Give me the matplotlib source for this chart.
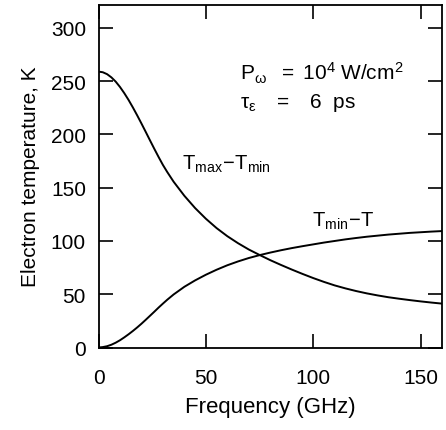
import numpy as np
import matplotlib
matplotlib.use('Agg')
import matplotlib.pyplot as plt

plt.rcParams['font.family'] = ['Liberation Sans', 'DejaVu Sans']
plt.rcParams['mathtext.fontset'] = 'custom'
plt.rcParams['mathtext.rm'] = 'Liberation Sans'
plt.rcParams['mathtext.it'] = 'Liberation Sans'

# frequency grid (GHz) of the values
freq = [0, 2, 4, 6, 8, 10, 12, 14, 16, 18, 20, 22, 24, 26, 28, 30, 32, 35, 40,
        45, 50, 55, 60, 65, 70, 75, 80, 85, 90, 95, 100, 105, 110, 115, 120,
        125, 130, 135, 140, 145, 150, 155, 160]

# Tmax - Tmin (falling curve)
t_dec = [259, 258.4, 256.6, 253.6, 249.6, 244.6, 238.8, 232.4, 225.4, 218.0,
         210.3, 202.4, 194.4, 186.5, 178.8, 171.4, 164.8, 155.6, 142.4, 130.9,
         120.9, 112.1, 104.5, 97.9, 92.0, 86.9, 82.0, 77.5, 73.2, 69.1, 65.2,
         61.6, 58.3, 55.5, 53.0, 50.8, 48.9, 47.2, 45.8, 44.5, 43.3, 42.2, 41.2]

# Tmin - T (rising curve)
t_inc = [0, 0.4, 1.2, 2.6, 4.5, 6.8, 9.5, 12.4, 15.5, 18.8, 22.3, 26, 29.8,
         33.6, 37.5, 41.2, 44.8, 49.8, 57, 63, 68.3, 73, 77.2, 80.8, 84, 86.7,
         89.1, 91.3, 93.3, 95.1, 96.8, 98.5, 100.0, 101.5, 102.8, 104.0,
         105.0, 106.0, 106.8, 107.6, 108.2, 108.8, 109.3]

xticks = [0, 50, 100, 150]
yticks = [0, 50, 100, 150, 200, 250, 300]

fig = plt.figure(figsize=(4.46, 4.31), dpi=100)
ax = fig.add_axes([98.5 / 446, (431 - 348.5) / 431, (442 - 98.5) / 446, (348.5 - 5.5) / 431])

ax.plot(freq, t_dec, color='black', lw=1.4)
ax.plot(freq, t_inc, color='black', lw=1.4)

ax.set_xlim(0, 160)
ax.set_ylim(0, 322)
ax.set_xticks(xticks)
ax.set_yticks(yticks)
ax.tick_params(direction='in', length=10, width=1.2, labelsize=15,
               top=True, right=True)
ax.tick_params(axis='x', pad=15)
ax.tick_params(axis='y', pad=9)
for s in ax.spines.values():
    s.set_linewidth(1.3)

ax.set_xlabel('Frequency (GHz)', fontsize=16, labelpad=6)
ax.set_ylabel('Electron temperature, K', fontsize=15, labelpad=8)

ax.text(66, 252, r'$\mathregular{P_{\omega}\ \ =\ 10^{4}\ W/cm^{2}}$', fontsize=15, va='baseline')
ax.text(66, 225.5, r'$\mathregular{\tau_{\varepsilon}\ \ \ =\ \ \ 6\ \ ps}$', fontsize=15, va='baseline')
ax.text(39, 167.5, r'$\mathregular{T_{max}\!-\!T_{min}}$', fontsize=14.5, va='baseline')
ax.text(99.6, 114.3, r'$\mathregular{T_{min}\!-\!T}$', fontsize=14.5, va='baseline')

fig.savefig('out.png', dpi=100)
